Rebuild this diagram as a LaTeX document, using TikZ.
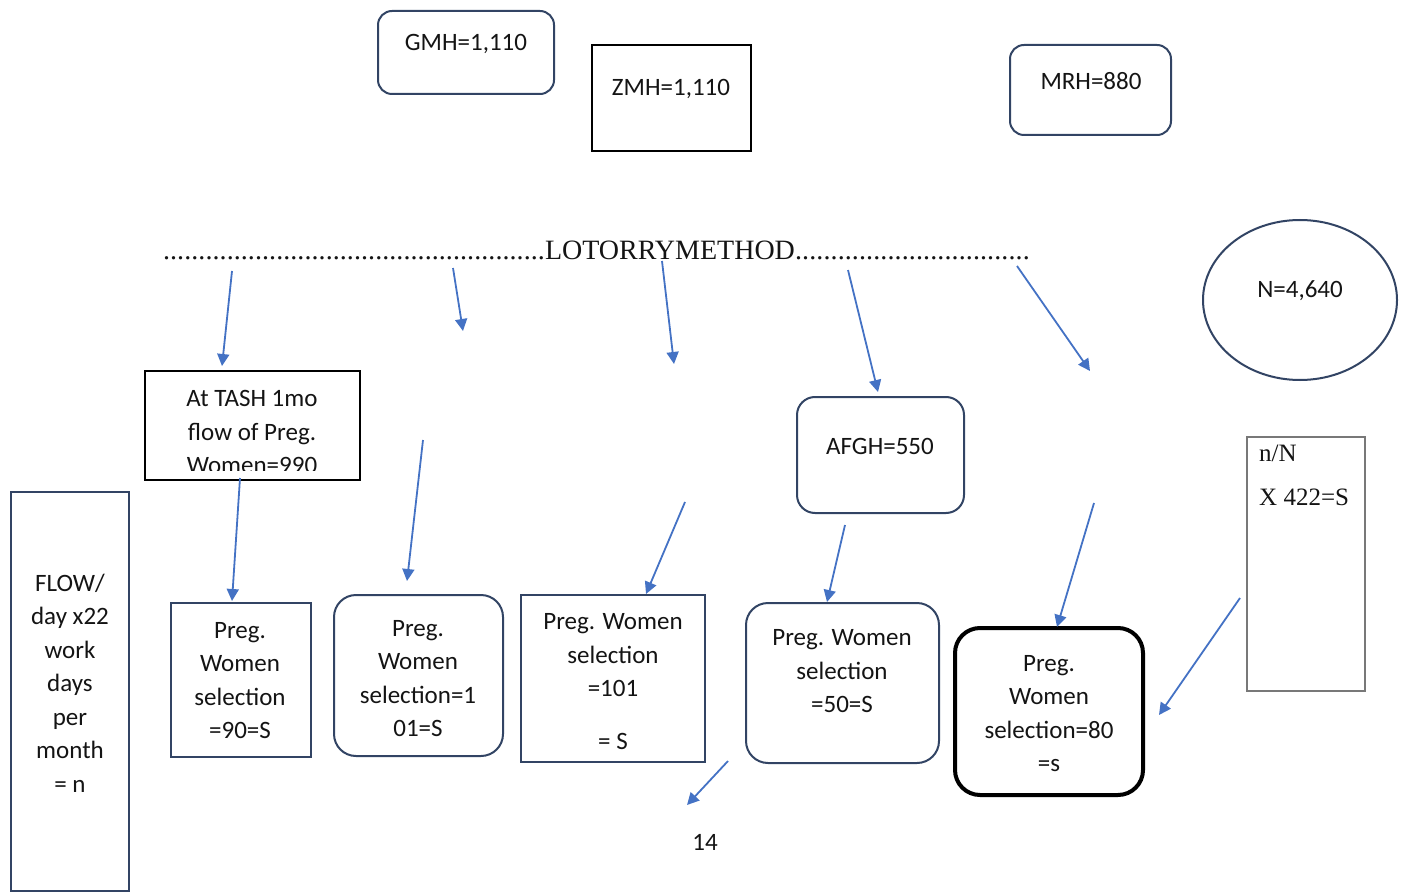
\documentclass[tikz,border=0pt]{standalone}
\usepackage{fontspec}
\setmainfont{Carlito}
\newfontfamily\tnr{Liberation Serif}
\usetikzlibrary{arrows.meta,shapes.geometric}
\definecolor{navy}{RGB}{50,68,100}
\definecolor{arrowblue}{RGB}{68,114,196}
\definecolor{txtc}{RGB}{20,20,20}
\definecolor{graybox}{RGB}{120,120,120}
\begin{document}
\begin{tikzpicture}[x=1pt,y=-1pt,
  txt/.style={font=\fontsize{25}{33.5}\selectfont, align=center, inner sep=0pt, text=txtc},
  serif/.style={font=\tnr\fontsize{25}{30}\selectfont, inner sep=0pt, text=txtc, anchor=west},
  navybox/.style={draw=navy, line width=2pt, inner sep=0pt},
  rnavy/.style={navybox, rounded corners=16pt},
  blackbox/.style={draw=black, line width=2pt, inner sep=0pt},
  arr/.style={draw=arrowblue, line width=1.8pt, -{Triangle[length=12pt,width=12pt]}}]
\useasboundingbox (0,0) rectangle (1402,893);

% top boxes
\node[rnavy, rounded corners=14pt, minimum width=176pt, minimum height=83pt] (gmh) at (466,52.5) {};
\node[txt] (gmht) at (466,44) {GMH=1,110};
\node[blackbox, minimum width=159pt, minimum height=106pt] (zmh) at (671.5,98) {};
\node[txt] (zmht) at (671,89) {ZMH=1,110};
\node[rnavy, rounded corners=14pt, minimum width=161pt, minimum height=90pt] (mrh) at (1090.5,90) {};
\node[txt] (mrht) at (1091,81) {MRH=880};
\node[navybox, ellipse, minimum width=194pt, minimum height=160pt] (nell) at (1300,300) {};
\node[txt] (nellt) at (1300,291) {N=4,640};

% lottery line
\node[inner sep=0pt, text=txtc, font=\tnr\fontsize{28}{30}\selectfont] (lot) at (596.5,250)
 {\hbox to 382pt{\xleaders\hbox{.}\hfill}LOTORRYMETHOD\hbox to 235pt{\xleaders\hbox{.}\hfill}};

% TASH box
\node[blackbox, minimum width=215pt, minimum height=109pt] (tash) at (252.5,425.5) {};
\begin{scope}
\clip (147,373) rectangle (358,470);
\node[txt] (tasht) at (252,432) {At TASH 1mo\\flow of Preg.\\Women=990};
\end{scope}

% AFGH
\node[rnavy, rounded corners=18pt, minimum width=167pt, minimum height=116pt] (afgh) at (880.5,455) {};
\node[txt] (afght) at (880,446) {AFGH=550};

% n/N box
\node[draw=graybox, line width=1.5pt, inner sep=0pt, minimum width=118pt, minimum height=254pt] (nn) at (1306,564) {};
\node[serif] (nnt1) at (1259,453) {n/N};
\node[serif] (nnt2) at (1259,497) {X 422=S};

% FLOW box
\node[navybox, minimum width=118pt, minimum height=399pt] (flow) at (70,691.5) {};
\node[txt] (flowt) at (70,683) {FLOW/\\day x22\\work\\days\\per\\month\\= n};

% bottom boxes
\node[navybox, minimum width=140pt, minimum height=154pt] (b1) at (241,680) {};
\node[txt] (b1t) at (240,680.5) {Preg.\\Women\\selection\\=90=S};
\node[rnavy, rounded corners=22pt, minimum width=169pt, minimum height=161pt] (b2) at (418.5,675.5) {};
\node[txt] (b2t) at (418,678.5) {Preg.\\Women\\selection=1\\01=S};
\node[navybox, minimum width=184pt, minimum height=167pt] (b3) at (613,678.5) {};
\node[txt] (b3t) at (613,681.5) {Preg. Women\\selection\\=101\\[19pt]= S};
\node[rnavy, rounded corners=22pt, minimum width=193pt, minimum height=160pt] (b4) at (842.5,683) {};
\node[txt] (b4t) at (842,671.5) {Preg. Women\\selection\\=50=S};
\node[draw=black, line width=4pt, inner sep=0pt, rounded corners=25pt, minimum width=188pt, minimum height=167pt] (b5) at (1049,711.5) {};
\node[txt] (b5t) at (1049,713.5) {Preg.\\Women\\selection=80\\=s};

\node[txt] (page) at (705,842) {14};

% arrow end points
\coordinate (a1s) at (232,271);  \coordinate (a1e) at (222,366);
\coordinate (a2s) at (453,268);  \coordinate (a2e) at (463,331);
\coordinate (a3s) at (662,261);  \coordinate (a3e) at (674,364);
\coordinate (a4s) at (848,270);  \coordinate (a4e) at (878,392);
\coordinate (a5s) at (1017,266); \coordinate (a5e) at (1090,371);
\coordinate (a6s) at (240,478);  \coordinate (a6e) at (232,601);
\coordinate (a7s) at (423,440);  \coordinate (a7e) at (407,581);
\coordinate (a8s) at (685,502);  \coordinate (a8e) at (646,594);
\coordinate (a9s) at (845,525);  \coordinate (a9e) at (827,602);
\coordinate (a10s) at (1094,503); \coordinate (a10e) at (1057,627);
\coordinate (a11s) at (1240,598); \coordinate (a11e) at (1159,715);
\coordinate (a12s) at (728,761);  \coordinate (a12e) at (687,805);

\draw[arr] (a1s) -- (a1e);
\draw[arr] (a2s) -- (a2e);
\draw[arr] (a3s) -- (a3e);
\draw[arr] (a4s) -- (a4e);
\draw[arr] (a5s) -- (a5e);
\draw[arr] (a6s) -- (a6e);
\draw[arr] (a7s) -- (a7e);
\draw[arr] (a8s) -- (a8e);
\draw[arr] (a9s) -- (a9e);
\draw[arr] (a10s) -- (a10e);
\draw[arr] (a11s) -- (a11e);
\draw[arr] (a12s) -- (a12e);
\end{tikzpicture}
\end{document}
